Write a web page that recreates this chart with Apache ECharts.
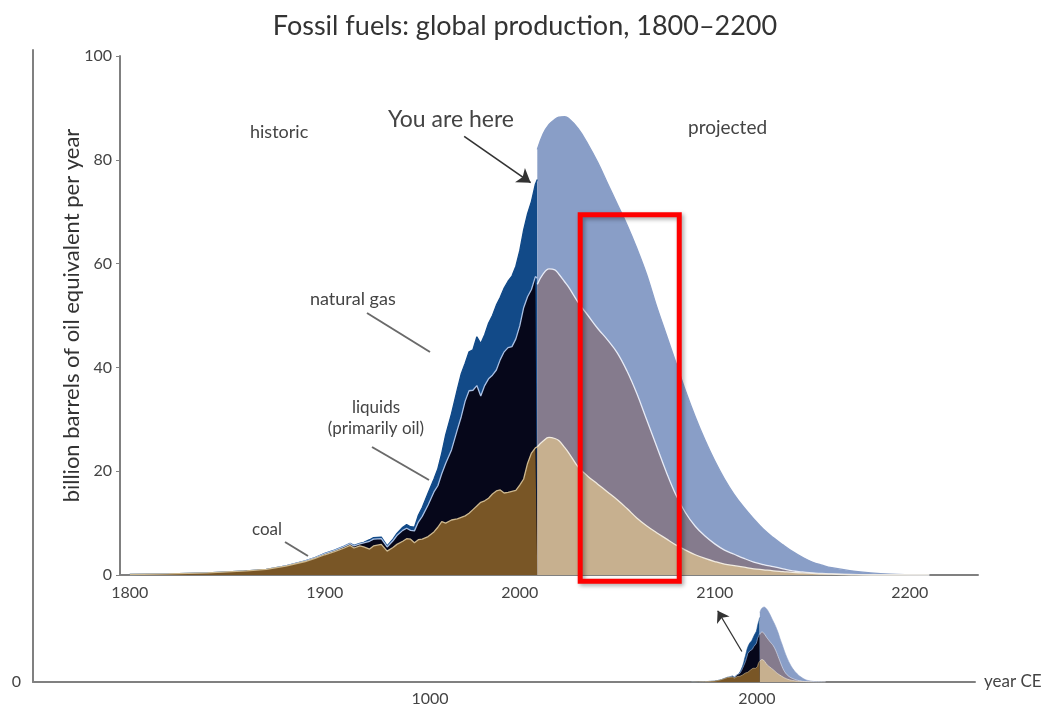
<!DOCTYPE html>
<html>
<head>
<meta charset="utf-8">
<script src="https://cdn.jsdelivr.net/npm/echarts@6/dist/echarts.min.js"></script>
<style>
  html, body { margin: 0; padding: 0; background: #fff; }
  #chart { width: 1050px; height: 707px; }
</style>
</head>
<body>
<div id="chart"></div>
<script>
// historic production, billion barrels of oil equivalent per year
const histYears = [1800, 1820, 1840, 1850, 1860, 1870, 1880, 1890, 1895, 1900, 1905, 1910, 1913, 1915, 1918,
  1920, 1923, 1925, 1929, 1932, 1935, 1937, 1940, 1942, 1944, 1946, 1948, 1950, 1953, 1956, 1958,
  1960, 1962, 1965, 1968, 1970, 1972, 1974, 1976, 1978, 1980, 1982, 1984, 1986, 1988,
  1990, 1992, 1994, 1996, 1998, 2000, 2002, 2004, 2006, 2008, 2009];
const histCoal = [0.1, 0.2, 0.4, 0.6, 0.8, 1.1, 1.7, 2.6, 3.2, 3.9, 4.5, 5.2, 5.7, 5.2, 5.6,
  5.4, 5.0, 5.6, 5.9, 4.6, 5.3, 5.9, 6.5, 7.0, 6.9, 6.2, 6.8, 6.9, 7.4, 8.3, 9.2,
  10.3, 10.0, 10.6, 10.8, 11.1, 11.4, 11.9, 12.6, 13.3, 14.0, 14.3, 14.8, 15.6, 16.2,
  16.4, 15.8, 15.9, 16.1, 16.3, 17.3, 18.5, 21.5, 23.5, 24.5, 24.7];
const histLiquids = [0, 0, 0, 0, 0, 0, 0.05, 0.1, 0.15, 0.2, 0.25, 0.3, 0.35, 0.4, 0.4,
  0.8, 1.5, 1.3, 1.1, 0.8, 1.3, 1.7, 2.1, 2.0, 1.7, 2.3, 3.4, 4.4, 6.1, 7.7, 8.0,
  9.2, 11.5, 13.5, 17.2, 19.4, 22.1, 23.6, 23.0, 23.2, 20.5, 22.2, 23.0, 22.9, 23.3,
  25.1, 27.2, 27.9, 27.9, 29.2, 30.7, 33.0, 32.1, 31.5, 33.0, 32.5];
const histGas = [0, 0, 0, 0, 0, 0, 0, 0, 0.02, 0.05, 0.05, 0.05, 0.05, 0.1, 0.1,
  0.1, 0.3, 0.3, 0.3, 0.2, 0.3, 0.4, 0.6, 0.7, 0.7, 0.7, 1.3, 1.7, 2.3, 2.5, 3.3,
  4.0, 5.5, 7.0, 7.8, 8.3, 7.3, 7.5, 7.8, 9.4, 10.1, 9.8, 10.7, 11.5, 12.5,
  12.0, 12.3, 12.8, 13.6, 14.0, 14.5, 15.0, 16.0, 17.0, 17.8, 19.0];

// projected production
const projYears = [2009, 2012, 2015, 2018, 2020, 2023, 2025, 2030, 2035, 2040, 2045, 2050, 2055, 2060,
  2065, 2070, 2075, 2080, 2085, 2090, 2095, 2100, 2105, 2110, 2115, 2120, 2125, 2130, 2135,
  2140, 2145, 2150, 2155, 2160, 2170, 2180, 2190, 2200, 2210];
const projCoal = [24.7, 25.8, 26.5, 26.3, 25.9, 24.6, 23.6, 20.8, 19.0, 17.5, 16.0, 14.5, 12.8, 11.0,
  9.5, 8.2, 7.0, 5.8, 4.8, 3.9, 3.2, 2.6, 2.1, 1.8, 1.5, 1.2, 1.0, 0.8, 0.65,
  0.5, 0.4, 0.3, 0.2, 0.15, 0.05, 0, 0, 0, 0];
const projLiquids = [31.3, 32.2, 32.5, 32.5, 32.1, 31.9, 31.9, 31.7, 31.0, 30.0, 29.3, 28.3, 26.5, 24.0,
  20.5, 16.8, 13.0, 9.7, 7.2, 5.5, 4.3, 3.4, 2.7, 2.2, 1.7, 1.3, 1.0, 0.8, 0.55,
  0.3, 0.2, 0.1, 0.1, 0.05, 0.05, 0, 0, 0, 0];
const projGas = [26.0, 27.0, 27.8, 29.0, 30.2, 31.8, 32.5, 33.5, 33.0, 32.0, 30.2, 28.7, 28.2, 28.0,
  28.0, 27.0, 26.5, 25.5, 23.5, 21.1, 18.5, 16.0, 13.7, 11.5, 9.8, 8.3, 6.8, 5.6, 4.6,
  3.7, 2.8, 2.1, 1.6, 1.2, 0.7, 0.4, 0.15, 0.05, 0];

const mainTicks = [1800, 1900, 2000, 2100, 2200];
const insetTicks = [1000, 2000];

const FONT = 'Lato';
const chart = echarts.init(document.getElementById('chart'));

function pairs(xs, ys) {
  return xs.map((x, i) => [x, ys[i]]);
}
function add(a, b) {
  return a.map((v, i) => v + b[i]);
}

// running totals, so each layer is drawn from the axis up to its own top
const histMid = add(histCoal, histLiquids);
const histTop = add(histMid, histGas);
const projMid = add(projCoal, projLiquids);
const projTop = add(projMid, projGas);

function area(name, years, vals, color, edge, smooth, idx, z) {
  return {
    name: name,
    type: 'line',
    xAxisIndex: idx,
    yAxisIndex: idx,
    data: pairs(years, vals),
    smooth: smooth,
    symbol: 'none',
    silent: true,
    lineStyle: { color: edge, width: idx === 0 ? 1.3 : 0.6 },
    areaStyle: { color: color, opacity: 1 },
    z: z
  };
}

function layers(idx) {
  return [
    area('natural gas', histYears, histTop, '#124a88', '#124a88', false, idx, 2),
    area('liquids', histYears, histMid, '#06071a', '#a9c0e4', false, idx, 3),
    area('coal', histYears, histCoal, '#795626', '#cdb88f', false, idx, 4),
    area('natural gas', projYears, projTop, '#899ec7', '#899ec7', 0.4, idx, 2),
    area('liquids', projYears, projMid, '#857b8d', '#e8ecf7', 0.4, idx, 3),
    area('coal', projYears, projCoal, '#c7b08f', '#f1ebe0', 0.4, idx, 4)
  ];
}

const mainSeries = layers(0);
const insetSeries = layers(1);

// "You are here" arrows
mainSeries[0].markLine = {
  silent: true,
  symbol: ['none', 'arrow'],
  symbolSize: 13,
  label: { show: false },
  lineStyle: { color: '#333', width: 1.6, type: 'solid' },
  data: [[{ coord: [1971.5, 84.5] }, { coord: [2005.6, 75.6] }]]
};
insetSeries[0].markLine = {
  silent: true,
  symbol: ['none', 'arrow'],
  symbolSize: 11,
  label: { show: false },
  lineStyle: { color: '#333', width: 1.3, type: 'solid' },
  data: [[{ coord: [1954, 36] }, { coord: [1880, 84] }]]
};

const axisLine = { onZero: false, lineStyle: { color: '#808080', width: 2 } };
const tickLabel = { color: '#444', fontSize: 16, fontFamily: FONT, formatter: v => String(v) };

function label(text, x, y, size, align) {
  return {
    type: 'text', x: x, y: y, silent: true,
    style: {
      text: text, fontSize: size, fontFamily: FONT, fill: '#444',
      align: align || 'left', verticalAlign: 'middle'
    }
  };
}
function leader(x1, y1, x2, y2) {
  return {
    type: 'line', silent: true,
    shape: { x1: x1, y1: y1, x2: x2, y2: y2 },
    style: { stroke: '#6a6a6a', lineWidth: 2 }
  };
}

const option = {
  backgroundColor: '#fff',
  animation: false,
  title: {
    text: 'Fossil fuels: global production, 1800\u20132200',
    left: 'center',
    top: 8,
    textStyle: { fontFamily: FONT, fontWeight: 'normal', fontSize: 27, color: '#333' }
  },
  grid: [
    { left: 120, right: 72, top: 56, bottom: 132 },
    { left: 33, right: 75, top: 50, bottom: 24 }
  ],
  xAxis: [
    {
      type: 'value', gridIndex: 0, min: 1795, max: 2235,
      splitLine: { show: false },
      axisLine: axisLine,
      axisTick: { show: false },
      axisLabel: Object.assign({ customValues: mainTicks, margin: 10 }, tickLabel)
    },
    {
      type: 'value', gridIndex: 1, min: -214, max: 2667,
      splitLine: { show: false },
      axisLine: axisLine,
      axisTick: { show: false },
      axisLabel: Object.assign({ customValues: insetTicks, margin: 9 }, tickLabel),
      name: 'year CE',
      nameLocation: 'end',
      nameGap: 9,
      nameTextStyle: { color: '#444', fontSize: 17, fontFamily: FONT }
    }
  ],
  yAxis: [
    {
      type: 'value', gridIndex: 0, min: 0, max: 100, interval: 20,
      splitLine: { show: false },
      axisLine: { show: true, onZero: false, lineStyle: { color: '#808080', width: 2 } },
      axisTick: { show: true, length: 4, lineStyle: { color: '#808080' } },
      axisLabel: Object.assign({ margin: 8 }, tickLabel),
      name: 'billion barrels of oil equivalent per year',
      nameLocation: 'middle',
      nameGap: 37,
      nameMoveOverlap: false,
      nameTextStyle: { color: '#333', fontSize: 22, fontFamily: FONT }
    },
    {
      type: 'value', gridIndex: 1, min: 0, max: 745,
      splitLine: { show: false },
      axisLine: { show: true, onZero: false, lineStyle: { color: '#808080', width: 2 } },
      axisTick: { show: false },
      axisLabel: Object.assign({ customValues: [0], margin: 12 }, tickLabel)
    }
  ],
  series: mainSeries.concat(insetSeries),
  graphic: [
    label('historic', 250, 132, 18),
    label('projected', 688, 128, 19),
    label('You are here', 388, 120, 23),
    label('natural gas', 310, 299, 18),
    leader(367, 313, 430, 352),
    label('liquids', 376, 408, 17, 'center'),
    label('(primarily oil)', 376, 429, 17, 'center'),
    leader(372, 447, 429, 480),
    label('coal', 252, 530, 17),
    leader(285, 542, 308, 556)
  ]
};

chart.setOption(option);

// red highlight box around 2031-2082
const p1 = chart.convertToPixel({ gridIndex: 0 }, [2031, 69.4]);
const p2 = chart.convertToPixel({ gridIndex: 0 }, [2081.8, -1.2]);
chart.setOption({
  graphic: option.graphic.concat([{
    type: 'rect', silent: true, z: 100,
    shape: { x: p1[0], y: p1[1], width: p2[0] - p1[0], height: p2[1] - p1[1] },
    style: {
      fill: 'none', stroke: '#ff0000', lineWidth: 5,
      shadowBlur: 4, shadowOffsetX: 2, shadowOffsetY: 2, shadowColor: 'rgba(0,0,0,0.35)'
    }
  }])
});
</script>
</body>
</html>
